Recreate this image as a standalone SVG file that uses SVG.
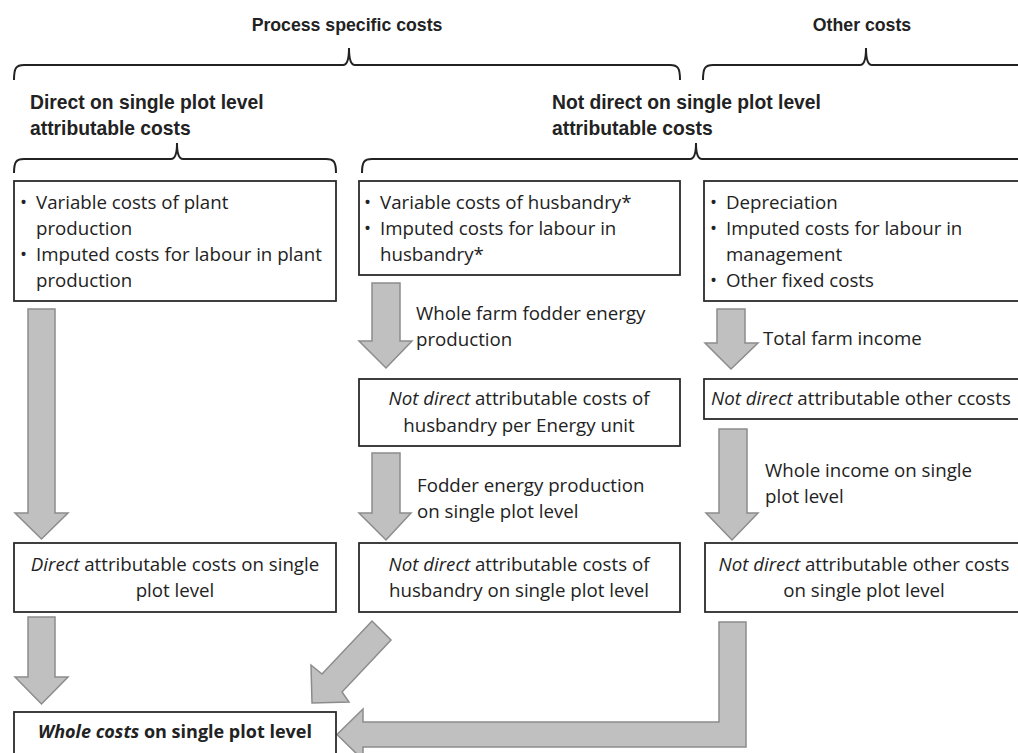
<svg xmlns="http://www.w3.org/2000/svg" width="1018" height="753" viewBox="0 0 1018 753">
<style>
.box{fill:#fff;stroke:#2b2b2b;stroke-width:1.8}
.arr{fill:#c0c0c0;stroke:#8c8c8c;stroke-width:1.5;stroke-linejoin:miter}
.brace{fill:none;stroke:#222;stroke-width:2}
.t{font-family:"Open Sans","Liberation Sans",sans-serif;font-size:18.7px;fill:#222}
.h1{font-family:"Liberation Sans",Arial,sans-serif;font-size:17.7px;font-weight:bold;fill:#222}
.h2{font-family:"Liberation Sans",Arial,sans-serif;font-size:19.3px;font-weight:bold;fill:#222}
.c{text-anchor:middle}
.i{font-style:italic}
.b{font-weight:bold;font-size:18px}
</style>
<rect width="1018" height="753" fill="#fff"/>
<g id="headings">
<text class="h1 c" x="347" y="31">Process specific costs</text>
<text class="h1 c" x="862" y="31">Other costs</text>
<text class="h2" x="30" y="109">Direct on single plot level</text>
<text class="h2" x="30" y="135">attributable costs</text>
<text class="h2" x="552" y="109">Not direct on single plot level</text>
<text class="h2" x="552" y="135">attributable costs</text>
</g>
<g id="braces">
<path class="brace" d="M14,80 C14,68 16,65 24,65 H343 C347,65 349,60 349,48 C349,60 351,65 355,65 H670 C678,65 680,68 680,80"/>
<path class="brace" d="M703,80 C703,68 705,65 713,65 H860 C864,65 866,60 866,48 C866,60 868,65 872,65 H1030"/>
<path class="brace" d="M14,173 C14,162 16,159 24,159 H171 C175,159 177,154 177,143 C177,154 179,159 183,159 H326 C334,159 336,162 336,173"/>
<path class="brace" d="M362,173 C362,162 364,159 372,159 H690 C694,159 696,154 696,143 C696,154 698,159 702,159 H1030"/>
</g>
<g id="connectors">
<polygon class="arr" points="28,309 55,309 55,513 68,513 41.5,539 15,513 28,513"/>
<polygon class="arr" points="372,283 400,283 400,341 412,341 386,368 359,341 372,341"/>
<polygon class="arr" points="372,453 400,453 400,513 411,513 386,540 359,513 372,513"/>
<polygon class="arr" points="717,309 745,309 745,343 758,343 731,369 705,343 717,343"/>
<polygon class="arr" points="719,429 747,429 747,513 758,513 732,540 706,513 719,513"/>
<polygon class="arr" points="28,617 55,617 55,677 68,677 41.5,704 15,677 28,677"/>
<polygon class="arr" points="372,621 391,640 342,692 349,702 312,703 311,665 322,674"/>
<polygon class="arr" points="719,622 746,622 746,747 363,747 363,760 337,734.5 363,709 363,722 719,722"/>
<text class="t" x="416" y="320">Whole farm fodder energy</text>
<text class="t" x="416" y="346">production</text>
<text class="t" x="763" y="345">Total farm income</text>
<text class="t" x="765" y="477">Whole income on single</text>
<text class="t" x="765" y="503">plot level</text>
<text class="t" x="417" y="492">Fodder energy production</text>
<text class="t" x="417" y="518">on single plot level</text>
</g>
<g id="node-plant">
<rect class="box" x="14" y="181" width="322" height="120"/>
<text class="t" x="20" y="209">•</text><text class="t" x="36" y="209">Variable costs of plant</text>
<text class="t" x="36" y="235">production</text>
<text class="t" x="20" y="261">•</text><text class="t" x="36" y="261">Imputed costs for labour in plant</text>
<text class="t" x="36" y="287">production</text>
</g>
<g id="node-husbandry">
<rect class="box" x="359" y="181" width="321" height="94"/>
<text class="t" x="364" y="209">•</text><text class="t" x="380" y="209">Variable costs of husbandry*</text>
<text class="t" x="364" y="235">•</text><text class="t" x="380" y="235">Imputed costs for labour in</text>
<text class="t" x="380" y="261">husbandry*</text>
</g>
<g id="node-other">
<rect class="box" x="704" y="181" width="330" height="120"/>
<text class="t" x="710" y="209">•</text><text class="t" x="726" y="209">Depreciation</text>
<text class="t" x="710" y="235">•</text><text class="t" x="726" y="235">Imputed costs for labour in</text>
<text class="t" x="726" y="261">management</text>
<text class="t" x="710" y="287">•</text><text class="t" x="726" y="287">Other fixed costs</text>
</g>
<g id="node-husbandry-energy">
<rect class="box" x="359" y="379" width="321" height="67"/>
<text class="t c" x="519" y="405"><tspan class="i">Not direct</tspan> attributable costs of</text>
<text class="t c" x="519" y="432">husbandry per Energy unit</text>
</g>
<g id="node-other-total">
<rect class="box" x="704" y="379" width="330" height="40"/>
<text class="t" x="711" y="405"><tspan class="i">Not direct</tspan> attributable other ccosts</text>
</g>
<g id="node-direct-plot">
<rect class="box" x="14" y="543" width="322" height="69"/>
<text class="t c" x="175" y="571"><tspan class="i">Direct</tspan> attributable costs on single</text>
<text class="t c" x="175" y="597">plot level</text>
</g>
<g id="node-husbandry-plot">
<rect class="box" x="359" y="543" width="321" height="69"/>
<text class="t c" x="519" y="571"><tspan class="i">Not direct</tspan> attributable costs of</text>
<text class="t c" x="519" y="597">husbandry on single plot level</text>
</g>
<g id="node-other-plot">
<rect class="box" x="705" y="543" width="330" height="69"/>
<text class="t c" x="864" y="571"><tspan class="i">Not direct</tspan> attributable other costs</text>
<text class="t c" x="864" y="597">on single plot level</text>
</g>
<g id="node-whole">
<rect class="box" x="14" y="712" width="322" height="60"/>
<text class="t c b" x="175" y="738"><tspan class="i">Whole costs</tspan> on single plot level</text>
</g>
</svg>
